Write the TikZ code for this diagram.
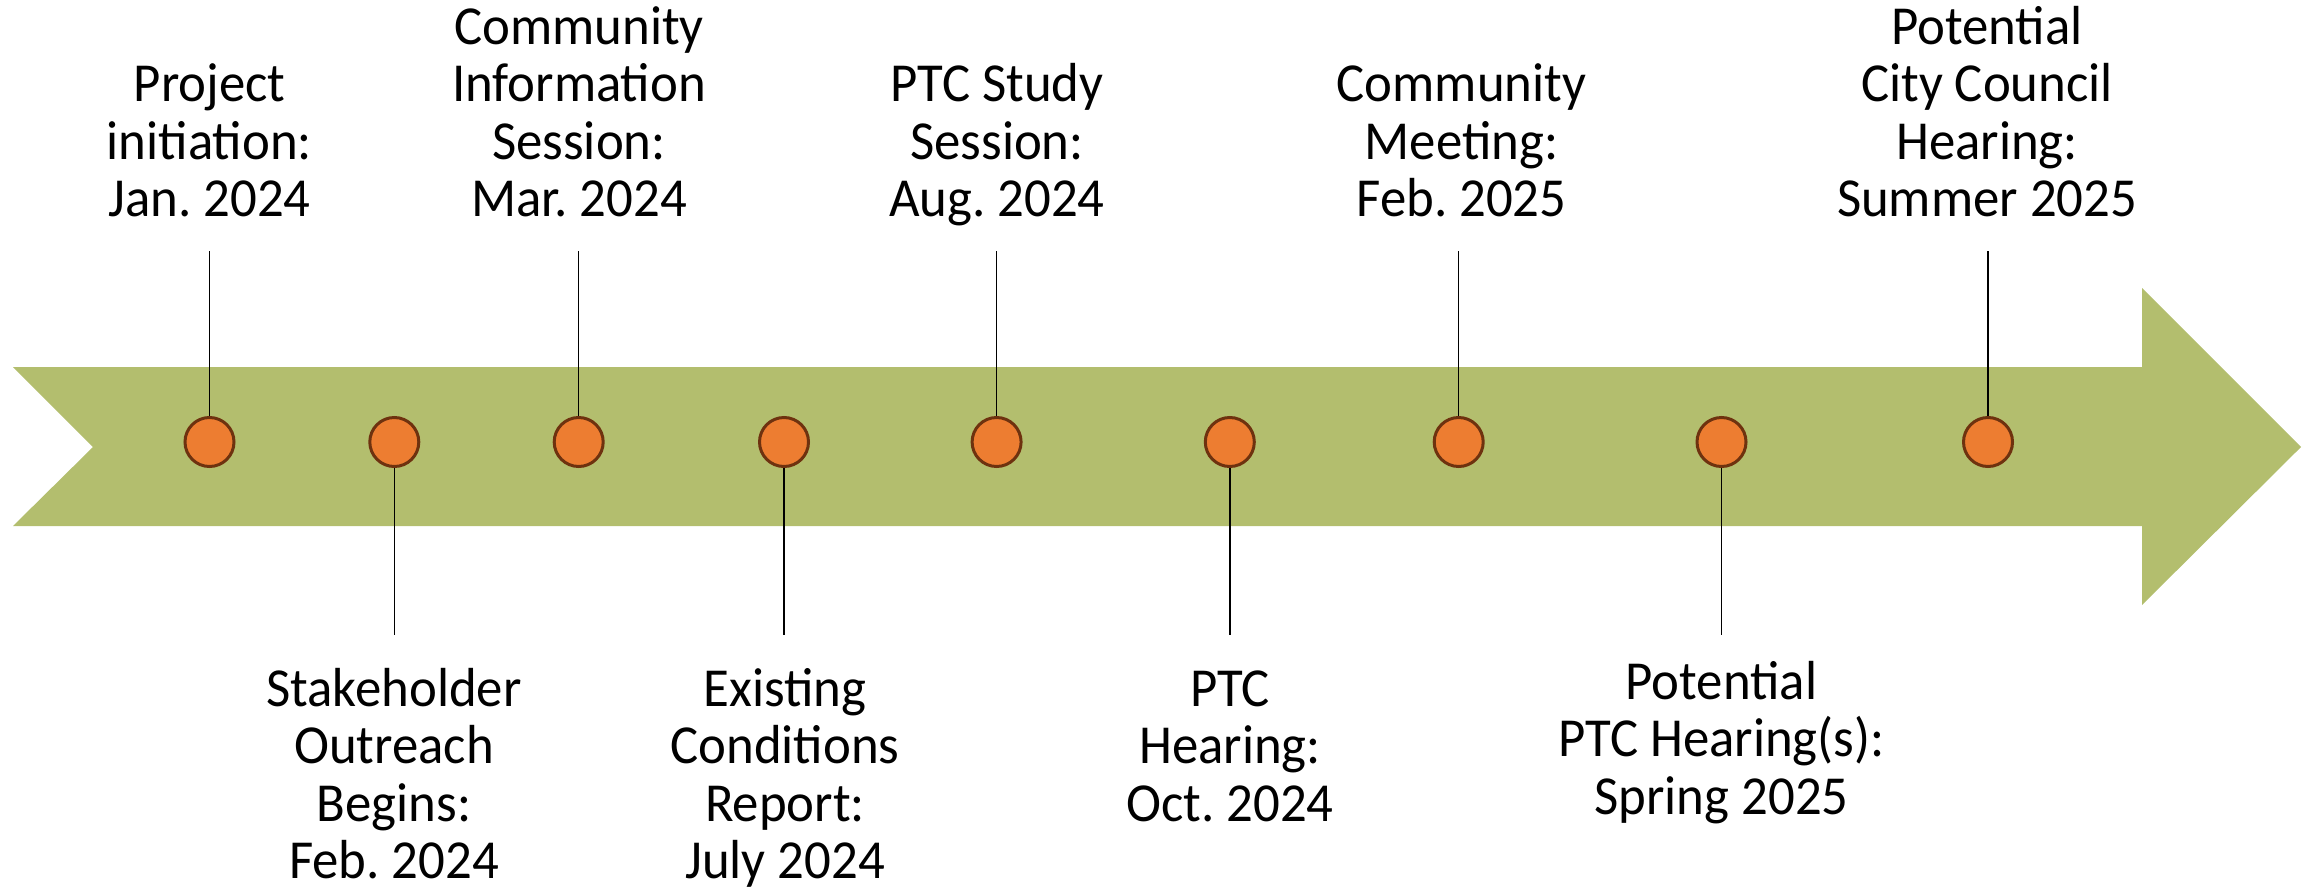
\documentclass[tikz,border=0pt]{standalone}
\usepackage{fontspec}
\setmainfont{Carlito}[FakeStretch=0.96]
\frenchspacing
\definecolor{arrowgreen}{RGB}{179,190,110}
\definecolor{dotorange}{RGB}{237,125,49}
\definecolor{dotedge}{RGB}{110,50,15}
\newcommand{\lblfont}{\fontsize{55}{57.5}\selectfont}
\newcommand{\lbl}[1]{\begin{tabular}[t]{@{}c@{}}#1\end{tabular}}
\begin{document}
\begin{tikzpicture}[x=1pt,y=-1pt,
  dot/.style={circle,fill=dotorange,draw=dotedge,line width=3pt,minimum size=49pt,inner sep=0pt},
  lbltext/.style={anchor=base,inner sep=0pt,font=\lblfont},
  stem/.style={draw=black,line width=1.5pt}]
\useasboundingbox (0,0) rectangle (2315,891);
% arrow band
\fill[arrowgreen] (13,367) -- (2142,367) -- (2142,288) -- (2301,447) -- (2142,605) -- (2142,526) -- (13,526) -- (93,447) -- cycle;

% free ends of the stems
\coordinate (u1) at (209.5,251);
\coordinate (b2) at (394.3,635);
\coordinate (u3) at (578.7,251);
\coordinate (b4) at (784,635);
\coordinate (u5) at (996.6,251);
\coordinate (b6) at (1229.8,635);
\coordinate (u7) at (1458.7,251);
\coordinate (b8) at (1721.5,635);
\coordinate (u9) at (1988,251);

\node[dot] (d1) at (209.5,442) {};
\node[dot] (d2) at (394.3,442) {};
\node[dot] (d3) at (578.7,442) {};
\node[dot] (d4) at (784,442) {};
\node[dot] (d5) at (996.6,442) {};
\node[dot] (d6) at (1229.8,442) {};
\node[dot] (d7) at (1458.7,442) {};
\node[dot] (d8) at (1721.5,442) {};
\node[dot] (d9) at (1988,442) {};

\draw[stem] (d1.north) -- (u1);
\draw[stem] (d2.south) -- (b2);
\draw[stem] (d3.north) -- (u3);
\draw[stem] (d4.south) -- (b4);
\draw[stem] (d5.north) -- (u5);
\draw[stem] (d6.south) -- (b6);
\draw[stem] (d7.north) -- (u7);
\draw[stem] (d8.south) -- (b8);
\draw[stem] (d9.north) -- (u9);

% labels above
\node[lbltext] (t1) at (209.5,101.7) {\lbl{Project\\initiation:\\Jan. 2024}};
\node[lbltext] (t3) at (579,44.5) {\lbl{Community\\Information\\Session:\\Mar. 2024}};
\node[lbltext] (t5) at (997,101.7) {\lbl{PTC Study\\Session:\\Aug. 2024}};
\node[lbltext] (t7) at (1461.5,101.7) {\lbl{Community\\Meeting:\\Feb. 2025}};
\node[lbltext] (t9) at (1987,44.5) {\lbl{Potential\\City Council\\Hearing:\\Summer 2025}};
% labels below
\node[lbltext] (t2) at (394,706) {\lbl{Stakeholder\\Outreach\\Begins:\\Feb. 2024}};
\node[lbltext] (t4) at (785,706) {\lbl{Existing\\Conditions\\Report:\\July 2024}};
\node[lbltext] (t6) at (1230,706) {\lbl{PTC\\Hearing:\\Oct. 2024}};
\node[lbltext] (t8) at (1721.5,699.3) {\lbl{Potential\\PTC Hearing(s):\\Spring 2025}};
\end{tikzpicture}
\end{document}
